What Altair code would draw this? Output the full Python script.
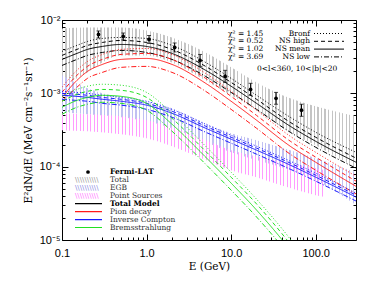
import altair as alt
import pandas as pd

# ---------------- data ----------------
E_MODEL = [0.1, 0.15, 0.2, 0.3, 0.5, 1, 2, 5, 10, 20, 50, 100, 300]

TOTAL_BRONF  = [3.73e-3, 4.50e-3, 5.10e-3, 5.60e-3, 5.78e-3, 5.60e-3, 4.50e-3, 2.64e-3, 1.60e-3, 9.4e-4, 4.72e-4, 2.95e-4, 1.57e-4]
TOTAL_NSHIGH = [3.29e-3, 3.97e-3, 4.50e-3, 4.94e-3, 5.26e-3, 4.94e-3, 3.97e-3, 2.33e-3, 1.41e-3, 8.3e-4, 4.03e-4, 2.52e-4, 1.31e-4]
TOTAL_NSMEAN = [2.90e-3, 3.50e-3, 3.97e-3, 4.36e-3, 4.64e-3, 4.36e-3, 3.50e-3, 2.06e-3, 1.25e-3, 7.3e-4, 3.56e-4, 2.22e-4, 1.15e-4]
TOTAL_NSLOW  = [2.40e-3, 2.90e-3, 3.29e-3, 3.61e-3, 3.85e-3, 3.61e-3, 2.90e-3, 1.70e-3, 1.03e-3, 6.05e-4, 2.95e-4, 1.84e-4, 9.55e-5]

PION_BRONF  = [1.21e-3, 2.06e-3, 2.72e-3, 3.39e-3, 3.97e-3, 4.09e-3, 3.39e-3, 1.87e-3, 1.065e-3, 5.9e-4, 2.60e-4, 1.57e-4, 7.4e-5]
PION_NSHIGH = [1.03e-3, 1.76e-3, 2.33e-3, 2.90e-3, 3.39e-3, 3.50e-3, 2.90e-3, 1.60e-3, 9.1e-4, 5.0e-4, 2.23e-4, 1.35e-4, 6.35e-5]
PION_NSMEAN = [8.8e-4, 1.50e-3, 1.99e-3, 2.48e-3, 2.90e-3, 2.99e-3, 2.48e-3, 1.37e-3, 7.8e-4, 4.30e-4, 1.90e-4, 1.15e-4, 5.4e-5]
PION_NSLOW  = [7.8e-4, 1.21e-3, 1.60e-3, 1.93e-3, 2.26e-3, 2.33e-3, 1.93e-3, 1.065e-3, 6.05e-4, 3.34e-4, 1.48e-4, 8.96e-5, 4.25e-5]

IC_BRONF  = [1.065e-3, 1.03e-3, 1.0e-3, 9.4e-4, 8.8e-4, 7.8e-4, 6.05e-4, 3.79e-4, 2.68e-4, 1.90e-4, 1.19e-4, 8.16e-5, 4.36e-5]
IC_NSHIGH = [1.0e-3, 9.7e-4, 9.4e-4, 8.8e-4, 8.3e-4, 7.3e-4, 5.7e-4, 3.56e-4, 2.52e-4, 1.79e-4, 1.12e-4, 7.66e-5, 4.09e-5]
IC_NSMEAN = [9.4e-4, 9.1e-4, 8.8e-4, 8.3e-4, 7.8e-4, 6.9e-4, 5.35e-4, 3.34e-4, 2.37e-4, 1.68e-4, 1.05e-4, 7.19e-5, 3.85e-5]
IC_NSLOW  = [8.3e-4, 8.0e-4, 7.8e-4, 7.3e-4, 6.9e-4, 6.05e-4, 4.72e-4, 2.95e-4, 2.09e-4, 1.48e-4, 9.25e-5, 6.35e-5, 3.4e-5]

BREMS_BRONF  = [9.1e-4, 1.13e-3, 1.25e-3, 1.33e-3, 1.29e-3, 1.03e-3, 5.35e-4, 1.90e-4, 8.41e-5, 3.6e-5, 1.03e-5, 3.4e-6, 6.2e-7]
BREMS_NSHIGH = [7.8e-4, 9.7e-4, 1.065e-3, 1.13e-3, 1.10e-3, 8.8e-4, 4.57e-4, 1.62e-4, 7.19e-5, 3.1e-5, 8.8e-6, 2.95e-6, 5.2e-7]
BREMS_NSMEAN = [6.45e-4, 8.0e-4, 8.8e-4, 9.4e-4, 9.1e-4, 7.3e-4, 3.79e-4, 1.35e-4, 5.97e-5, 2.56e-5, 7.3e-6, 2.44e-6, 4.4e-7]
BREMS_NSLOW  = [5.18e-4, 6.45e-4, 7.1e-4, 7.55e-4, 7.3e-4, 5.9e-4, 3.04e-4, 1.08e-4, 4.79e-5, 2.06e-5, 5.9e-6, 1.97e-6, 3.6e-7]

E_TOTAL_BAND = [0.1, 0.2, 0.3, 0.5, 1, 2, 5, 10, 20, 50, 100, 300]
TOTAL_BAND_HI = [7.66e-3, 7.9e-3, 7.9e-3, 7.9e-3, 7.2e-3, 5.78e-3, 3.61e-3, 2.26e-3, 1.41e-3, 8.55e-4, 6.65e-4, 4.86e-4]
TOTAL_BAND_LO = [1.29e-3, 1.93e-3, 2.64e-3, 3.29e-3, 3.29e-3, 2.64e-3, 1.50e-3, 9.4e-4, 5.9e-4, 2.95e-4, 1.96e-4, 9.55e-5]

E_EGB_BAND = [0.1, 0.2, 0.5, 1, 2, 5, 10, 20, 50, 100, 300]
EGB_BAND_HI = [1.76e-3, 1.17e-3, 8.8e-4, 7.8e-4, 6.25e-4, 3.91e-4, 2.86e-4, 2.30e-4, 1.68e-4, 1.31e-4, 8.41e-5]
EGB_BAND_LO = [5.5e-4, 5.18e-4, 4.72e-4, 4.16e-4, 3.34e-4, 2.16e-4, 1.57e-4, 1.23e-4, 8.96e-5, 6.55e-5, 2.99e-5]

E_PS_BAND = [0.1, 0.2, 0.5, 1, 2, 5, 10, 20, 50, 100, 130]
PS_BAND_HI = [5.35e-4, 5.18e-4, 4.86e-4, 4.30e-4, 3.45e-4, 2.30e-4, 1.68e-4, 1.39e-4, 1.12e-4, 9.55e-5, 8.96e-5]
PS_BAND_LO = [3.14e-4, 3.04e-4, 2.77e-4, 2.44e-4, 1.90e-4, 1.23e-4, 8.96e-5, 7.19e-5, 5.10e-5, 4.09e-5, 3.85e-5]

E_DATA = [0.27, 0.53, 1.07, 2.15, 4.3, 8.5, 17, 34, 68]
FLUX_DATA = [6.35e-3, 5.96e-3, 5.43e-3, 4.22e-3, 2.81e-3, 1.70e-3, 1.13e-3, 8.55e-4, 5.9e-4]
FLUX_ERR_HI = [7.09e-3, 6.65e-3, 6.15e-3, 4.86e-3, 3.39e-3, 2.06e-3, 1.37e-3, 1.03e-3, 7.1e-4]
FLUX_ERR_LO = [5.69e-3, 5.34e-3, 4.79e-3, 3.67e-3, 2.33e-3, 1.41e-3, 9.4e-4, 7.1e-4, 4.86e-4]

COMPONENTS = ["Total Model", "Pion decay", "Inverse Compton", "Bremsstrahlung"]
VARIANTS = ["Bronf", "NS high", "NS mean", "NS low"]
CHI2 = ["1.45", "0.52", "1.02", "3.69"]
LEGEND_LABELS = ["Fermi-LAT", "Total", "EGB", "Point Sources", "Total Model",
                 "Pion decay", "Inverse Compton", "Bremsstrahlung"]
REGION_TEXT = "0<l<360, 10<|b|<20"
X_MAJOR = [0.1, 1, 10, 100]
X_LABELS = ["0.1", "1.0", "10.0", "100.0"]
X_MINOR = [0.2, 0.3, 0.4, 0.5, 0.6, 0.7, 0.8, 0.9, 2, 3, 4, 5, 6, 7, 8, 9,
           20, 30, 40, 50, 60, 70, 80, 90, 200]
Y_MAJOR = [1e-5, 1e-4, 1e-3, 1e-2]
Y_LABELS = ["10⁻⁵", "10⁻⁴", "10⁻³", "10⁻²"]
Y_MINOR = [m * d for d in (1e-5, 1e-4, 1e-3) for m in range(2, 10)]

# ---------------- styles ----------------
COMP_COLORS = ["#000000", "#ff1a1a", "#1a1aff", "#22e022"]
DASHES = [[1, 2], [4, 3], [1, 0], [5, 2, 1, 2]]
SERIF = "DejaVu Serif"
SANS = "Liberation Sans"

XS = alt.Scale(type="log", domain=[0.1, 300], nice=False)
YS = alt.Scale(type="log", domain=[1e-5, 1e-2], nice=False)

series = {
    ("Total Model", "Bronf"): TOTAL_BRONF, ("Total Model", "NS high"): TOTAL_NSHIGH,
    ("Total Model", "NS mean"): TOTAL_NSMEAN, ("Total Model", "NS low"): TOTAL_NSLOW,
    ("Pion decay", "Bronf"): PION_BRONF, ("Pion decay", "NS high"): PION_NSHIGH,
    ("Pion decay", "NS mean"): PION_NSMEAN, ("Pion decay", "NS low"): PION_NSLOW,
    ("Inverse Compton", "Bronf"): IC_BRONF, ("Inverse Compton", "NS high"): IC_NSHIGH,
    ("Inverse Compton", "NS mean"): IC_NSMEAN, ("Inverse Compton", "NS low"): IC_NSLOW,
    ("Bremsstrahlung", "Bronf"): BREMS_BRONF, ("Bremsstrahlung", "NS high"): BREMS_NSHIGH,
    ("Bremsstrahlung", "NS mean"): BREMS_NSMEAN, ("Bremsstrahlung", "NS low"): BREMS_NSLOW,
}
rows = []
for (comp, var), vals in series.items():
    for e, f in zip(E_MODEL, vals):
        rows.append({"E": e, "F": f, "comp": comp, "var": var})
lines_df = pd.DataFrame(rows)


def hatch(color, n, duty=0.3):
    stops = []
    clear = "rgba(255,255,255,0)"
    for i in range(n):
        a, b, c = i / n, (i + duty) / n, (i + 1) / n
        stops += [alt.GradientStop(offset=a, color=color),
                  alt.GradientStop(offset=b, color=color),
                  alt.GradientStop(offset=b, color=clear),
                  alt.GradientStop(offset=c, color=clear)]
    return alt.Gradient(gradient="linear", stops=stops, x1=0, x2=1, y1=0, y2=0)


def band(es, lo, hi, color, n):
    df = pd.DataFrame({"E": es, "F": hi, "F2": lo})
    return alt.Chart(df).mark_area(color=hatch(color, n), clip=True,
                                   interpolate="monotone").encode(
        x=alt.X("E:Q", scale=XS, axis=None),
        y=alt.Y("F:Q", scale=YS, axis=None),
        y2="F2:Q")


bands = [
    band(E_TOTAL_BAND, TOTAL_BAND_LO, TOTAL_BAND_HI, "#c4c4c4", 84),
    band(E_EGB_BAND, EGB_BAND_LO, EGB_BAND_HI, "#c0c0f2", 84),
    band(E_PS_BAND, PS_BAND_LO, PS_BAND_HI, "#ff9cff", 75),
]

lines = alt.Chart(lines_df).mark_line(strokeWidth=1, clip=True, interpolate="monotone").encode(
    x=alt.X("E:Q", scale=XS, axis=None),
    y=alt.Y("F:Q", scale=YS, axis=None),
    color=alt.Color("comp:N", scale=alt.Scale(domain=COMPONENTS, range=COMP_COLORS), legend=None),
    strokeDash=alt.StrokeDash("var:N", scale=alt.Scale(domain=VARIANTS, range=DASHES), legend=None),
)

pts_df = pd.DataFrame({"E": E_DATA, "F": FLUX_DATA, "lo": FLUX_ERR_LO, "hi": FLUX_ERR_HI})
base_pts = alt.Chart(pts_df)
err = base_pts.mark_rule(color="black", strokeWidth=1).encode(
    x=alt.X("E:Q", scale=XS, axis=None), y=alt.Y("lo:Q", scale=YS, axis=None), y2="hi:Q")
cap_lo = base_pts.mark_tick(color="black", orient="horizontal", size=4, thickness=1).encode(
    x=alt.X("E:Q", scale=XS, axis=None), y=alt.Y("lo:Q", scale=YS, axis=None))
cap_hi = base_pts.mark_tick(color="black", orient="horizontal", size=4, thickness=1).encode(
    x=alt.X("E:Q", scale=XS, axis=None), y=alt.Y("hi:Q", scale=YS, axis=None))
pts = base_pts.mark_point(filled=True, color="black", size=14, opacity=1).encode(
    x=alt.X("E:Q", scale=XS, axis=None), y=alt.Y("F:Q", scale=YS, axis=None))


def expr_labels(values, labels):
    parts = []
    for v, l in zip(values[:-1], labels[:-1]):
        parts.append(f"datum.value < {v * 3} ? '{l}' : ")
    return "".join(parts) + f"'{labels[-1]}'"


anchor = pd.DataFrame({"E": [1.0], "F": [1e-3]})
AX = dict(domain=False, grid=False, tickColor="black", tickWidth=1)


def axis_layer(xaxis, yaxis):
    return alt.Chart(anchor).mark_point(opacity=0).encode(
        x=alt.X("E:Q", scale=XS, axis=xaxis),
        y=alt.Y("F:Q", scale=YS, axis=yaxis))


ax_major = axis_layer(
    alt.Axis(orient="bottom", values=X_MAJOR, tickSize=6, offset=-6,
             labelExpr=expr_labels(X_MAJOR, X_LABELS), labelFont=SANS, labelFontSize=11,
             labelColor="black", labelPadding=7, labelFlush=False, labelOverlap=False,
             title="E (GeV)", titleFont=SERIF, titleFontSize=10.5, titleFontWeight="normal",
             titleColor="black", titlePadding=3, **AX),
    alt.Axis(orient="left", values=Y_MAJOR, tickSize=6, offset=-6,
             labelExpr=expr_labels(Y_MAJOR, Y_LABELS), labelFont=SANS, labelFontSize=11,
             labelColor="black", labelPadding=2, labelFlush=False, labelOverlap=False,
             title="E²dN/dE (MeV cm⁻²s⁻¹sr⁻¹)", titleFont=SERIF, titleFontSize=10.5,
             titleFontWeight="normal", titleColor="black", titlePadding=6, **AX),
)
ax_minor = axis_layer(
    alt.Axis(orient="bottom", values=X_MINOR, tickSize=3, offset=-3, labels=False, title=None, **AX),
    alt.Axis(orient="left", values=Y_MINOR, tickSize=3, offset=-3, labels=False, title=None, **AX),
)
ax_major_t = axis_layer(
    alt.Axis(orient="top", values=X_MAJOR, tickSize=6, offset=-6, labels=False, title=None, **AX),
    alt.Axis(orient="right", values=Y_MAJOR, tickSize=6, offset=-6, labels=False, title=None, **AX),
)
ax_minor_t = axis_layer(
    alt.Axis(orient="top", values=X_MINOR, tickSize=3, offset=-3, labels=False, title=None, **AX),
    alt.Axis(orient="right", values=Y_MINOR, tickSize=3, offset=-3, labels=False, title=None, **AX),
)

ONE = pd.DataFrame({"k": [0]})


def text_at(s, x, y, **kw):
    props = dict(font=SERIF, fontSize=7.5, color="black", baseline="middle", align="left")
    props.update(kw)
    return alt.Chart(ONE).mark_text(text=s, **props).encode(x=alt.value(x), y=alt.value(y))


def rule_at(x1, x2, y, color, dash, width=1):
    return alt.Chart(ONE).mark_rule(color=color, strokeDash=dash, strokeWidth=width).encode(
        x=alt.value(x1), x2=alt.value(x2), y=alt.value(y))


annot = []
# bottom-left legend
leg_y0, leg_dy = 152, 7.93
hatch_colors = ["#909090", "#8080e0", "#ff66ff"]
for i, lab in enumerate(LEGEND_LABELS):
    y = leg_y0 + leg_dy * i
    bold = lab in ("Fermi-LAT", "Total Model")
    annot.append(text_at(lab, 48, y, fontWeight="bold" if bold else "normal",
                         color="black" if bold else "#333333"))
    if i == 0:
        annot.append(alt.Chart(ONE).mark_point(filled=True, color="black", size=14, opacity=1)
                     .encode(x=alt.value(26), y=alt.value(y)))
    elif i <= 3:
        annot.append(text_at("\\" * 10, 13, y, fontSize=7, color=hatch_colors[i - 1]))
    else:
        annot.append(rule_at(13, 40, y, COMP_COLORS[i - 4], [1, 0], 1.2))

# top-right legend
for i, (c, v) in enumerate(zip(CHI2, VARIANTS)):
    y = 13.5 + 7.8 * i
    annot.append(text_at(f"χ² = {c}", 166, y))
    annot.append(text_at(v, 248, y, align="right"))
    annot.append(rule_at(252, 282, y, "black", DASHES[i], 1))
annot.append(text_at(REGION_TEXT, 195, 49))

chart = alt.layer(
    *bands, lines, err, cap_lo, cap_hi, pts,
    ax_major, ax_minor, ax_major_t, ax_minor_t, *annot
).resolve_axis(x="independent", y="independent").properties(
    width=294, height=220,
    padding={"left": 54, "top": 12, "right": 10, "bottom": 42},
    autosize=alt.AutoSizeParams(type="none"),
).configure_view(stroke="black", strokeWidth=1)

chart.save("out.html", embed_options={"renderer": "svg", "actions": False})
